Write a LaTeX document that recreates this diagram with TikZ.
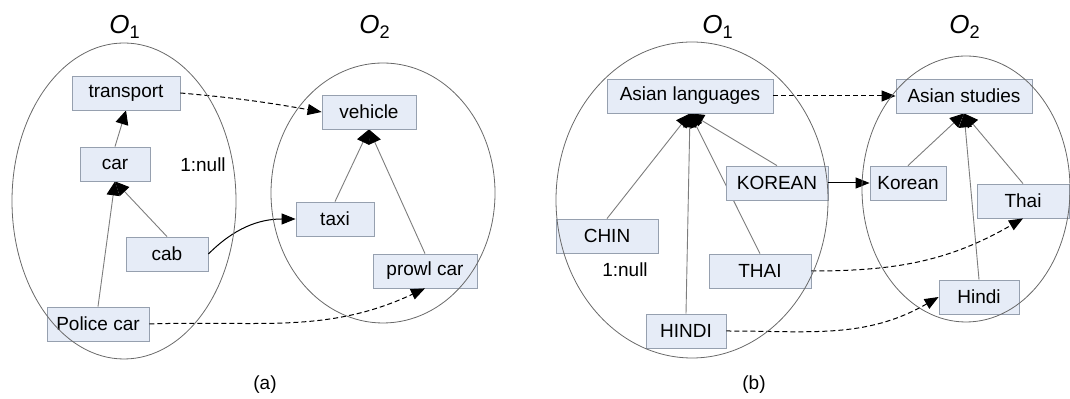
\documentclass[tikz,border=0pt]{standalone}
\usepackage{fontspec}
\setmainfont{Liberation Sans}
\usetikzlibrary{arrows.meta,backgrounds}
\definecolor{BoxFill}{RGB}{230,236,247}
\definecolor{BoxLine}{RGB}{150,160,175}
\definecolor{Rim}{RGB}{105,105,105}
\definecolor{Link}{RGB}{125,125,125}

\begin{document}
\begin{tikzpicture}[x=.5pt,y=.5pt,
 box/.style={draw=BoxLine,fill=BoxFill,minimum height=17pt,inner sep=2pt,font=\fontsize{9.5}{11}\selectfont},
 isa/.style={-{Triangle[length=7pt,width=6.5pt,color=black]},Link,line width=.45pt},
 map/.style={-{Triangle[length=7pt,width=5.5pt]},black,line width=.5pt,dash pattern=on 2.5pt off 1.5pt},
 onto/.style={-{Triangle[length=7pt,width=5.5pt]},black,line width=.5pt},
 rim/.style={draw=Rim,line width=.4pt},
 txt/.style={font=\fontsize{9.5}{11}\selectfont},
 lab/.style={font=\fontsize{13}{15}\selectfont}]
\useasboundingbox (0,0) rectangle (1070,-399);
% (a)
\node[lab] (o1a) at (125,-27) {\textit{O}\textsubscript{1}};
\node[lab] (o2a) at (375,-27) {\textit{O}\textsubscript{2}};
\node[box,minimum width=54pt] (transport) at (126,-93) {transport};
\node[box,minimum width=35pt] (car) at (115,-164) {car};
\node[box,minimum width=41pt] (cab) at (167,-254) {cab};
\node[box,minimum width=51pt] (police) at (98,-324) {Police car};
\node[box,minimum width=47pt] (vehicle) at (369,-112) {vehicle};
\node[box,minimum width=39pt] (taxi) at (335,-219) {taxi};
\node[box,minimum width=52pt] (prowl) at (425,-271) {prowl car};
\node[txt] (nulla) at (203,-165) {1:null};
\node[txt] (capa) at (265,-385) {(a)};
% (b)
\node[lab] (o1b) at (718,-27) {\textit{O}\textsubscript{1}};
\node[lab] (o2b) at (965,-27) {\textit{O}\textsubscript{2}};
\node[box,minimum width=83pt] (asianl) at (690,-96) {Asian languages};
\node[box,minimum width=68pt] (asians) at (964,-96) {Asian studies};
\node[box,minimum width=51pt] (KOREAN) at (777,-183) {KOREAN};
\node[box,minimum width=38pt] (korean) at (908,-183) {Korean};
\node[box,minimum width=46pt] (thai) at (1023,-201) {Thai};
\node[box,minimum width=51pt] (CHIN) at (607,-236) {CHIN};
\node[box,minimum width=51pt] (THAI) at (760,-271) {THAI};
\node[box,minimum width=40pt] (HINDI) at (686,-331) {HINDI};
\node[box,minimum width=40pt] (hindi) at (979,-297) {Hindi};
\node[txt] (nullb) at (625,-270) {1:null};
\node[txt] (capb) at (754,-385) {(b)};
\begin{scope}[on background layer]
\draw[isa] (car.north)--(transport.south);
\draw[isa] (cab.north)--(car.south);
\draw[isa] (police.north)--(car.south);
\draw[isa] (taxi.north)--(vehicle.south);
\draw[isa] (prowl.north)--(vehicle.south);
\draw[isa] (CHIN.north)--(asianl.south);
\draw[isa] (HINDI.north)--(asianl.south);
\draw[isa] (THAI.north)--(asianl.south);
\draw[isa] (KOREAN.north)--(asianl.south);
\draw[isa] (korean.north)--(asians.south);
\draw[isa] (hindi.north)--(asians.south);
\draw[isa] (thai.north)--(asians.south);
\end{scope}
\draw[map] (transport.east) to[out=-5,in=170] (vehicle.west);
\draw[onto] (cab.east) to[out=45,in=180] (taxi.west);
\draw[map] (police.east) to[out=2,in=205] (prowl.south);
\draw[map] (asianl.east)--(asians.west);
\draw[onto] (KOREAN.east)--(korean.west);
\draw[map] (THAI.east) to[out=0,in=210] (thai.south);
\draw[map] (HINDI.east) to[out=0,in=210] (hindi.west);
% ontologies
\draw[rim] (124,-201) ellipse[x radius=56pt,y radius=79pt];
\draw[rim] (383,-193) ellipse[x radius=56pt,y radius=65pt];
\draw[rim] (692,-200) ellipse[x radius=68pt,y radius=79pt];
\draw[rim] (966,-189) ellipse[x radius=52pt,y radius=66.5pt];
\end{tikzpicture}
\end{document}
